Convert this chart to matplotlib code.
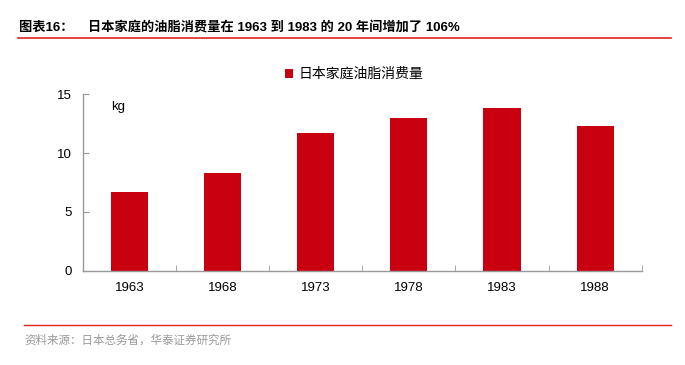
import matplotlib
matplotlib.use("Agg")
import matplotlib.pyplot as plt
from matplotlib.ticker import FixedLocator

plt.rcParams['font.family'] = ['Liberation Sans', 'Noto Sans CJK SC', 'DejaVu Sans']

# data
years = ["1963", "1968", "1973", "1978", "1983", "1988"]
consumption = [6.67, 8.31, 11.71, 13.01, 13.81, 12.28]
series_name = "日本家庭油脂消费量"
title = "图表16：    日本家庭的油脂消费量在 1963 到 1983 的 20 年间增加了 106%"
source = "资料来源：日本总务省，华泰证券研究所"

red = "#C8000F"
grey = "#999999"

fig = plt.figure(figsize=(6.85, 3.65), dpi=100)
ax = fig.add_axes([0.1207, 0.2584, 0.8163, 0.4832])

x = list(range(len(years)))
ax.bar(x, consumption, width=0.4, color=red, label=series_name)

ax.set_xlim(-0.5, len(years) - 0.5)
ax.set_ylim(0, 15)
ax.set_yticks([0, 5, 10, 15])
ax.set_xticks(x)
ax.set_xticklabels(years)
ax.xaxis.set_minor_locator(FixedLocator([i + 0.5 for i in x]))
ax.tick_params(axis='x', which='major', length=0, pad=8, labelsize=9.5)
ax.tick_params(axis='x', which='minor', direction='in', length=4, color=grey)
ax.tick_params(axis='y', direction='in', length=4, color=grey, pad=8, labelsize=9.5)

for s in ['top', 'right']:
    ax.spines[s].set_visible(False)
for s in ['left', 'bottom']:
    ax.spines[s].set_color(grey)
    ax.spines[s].set_linewidth(1.0)

ax.text(0.051, 0.93, "kg", transform=ax.transAxes, fontsize=9.5, va='center')

ax.legend(loc='center', bbox_to_anchor=(0.486, 1.115), frameon=False,
          fontsize=10, handlelength=0.6, handleheight=0.6, handletextpad=0.4)

# header and footer
fig.text(0.028, 0.923, title, fontsize=9.5, fontweight='bold',
         family=['Liberation Sans', 'Noto Sans CJK SC'], va='center')
fig.add_artist(plt.Line2D([0.026, 0.98], [0.896, 0.896], color='#E2231A', lw=1.2))
fig.add_artist(plt.Line2D([0.035, 0.98], [0.11, 0.11], color='#E2231A', lw=1.0))
fig.text(0.035, 0.068, source, fontsize=8.3, color='#9a9a9a',
         family=['Noto Sans CJK SC'], va='center')

fig.savefig("out.png", dpi=100)
